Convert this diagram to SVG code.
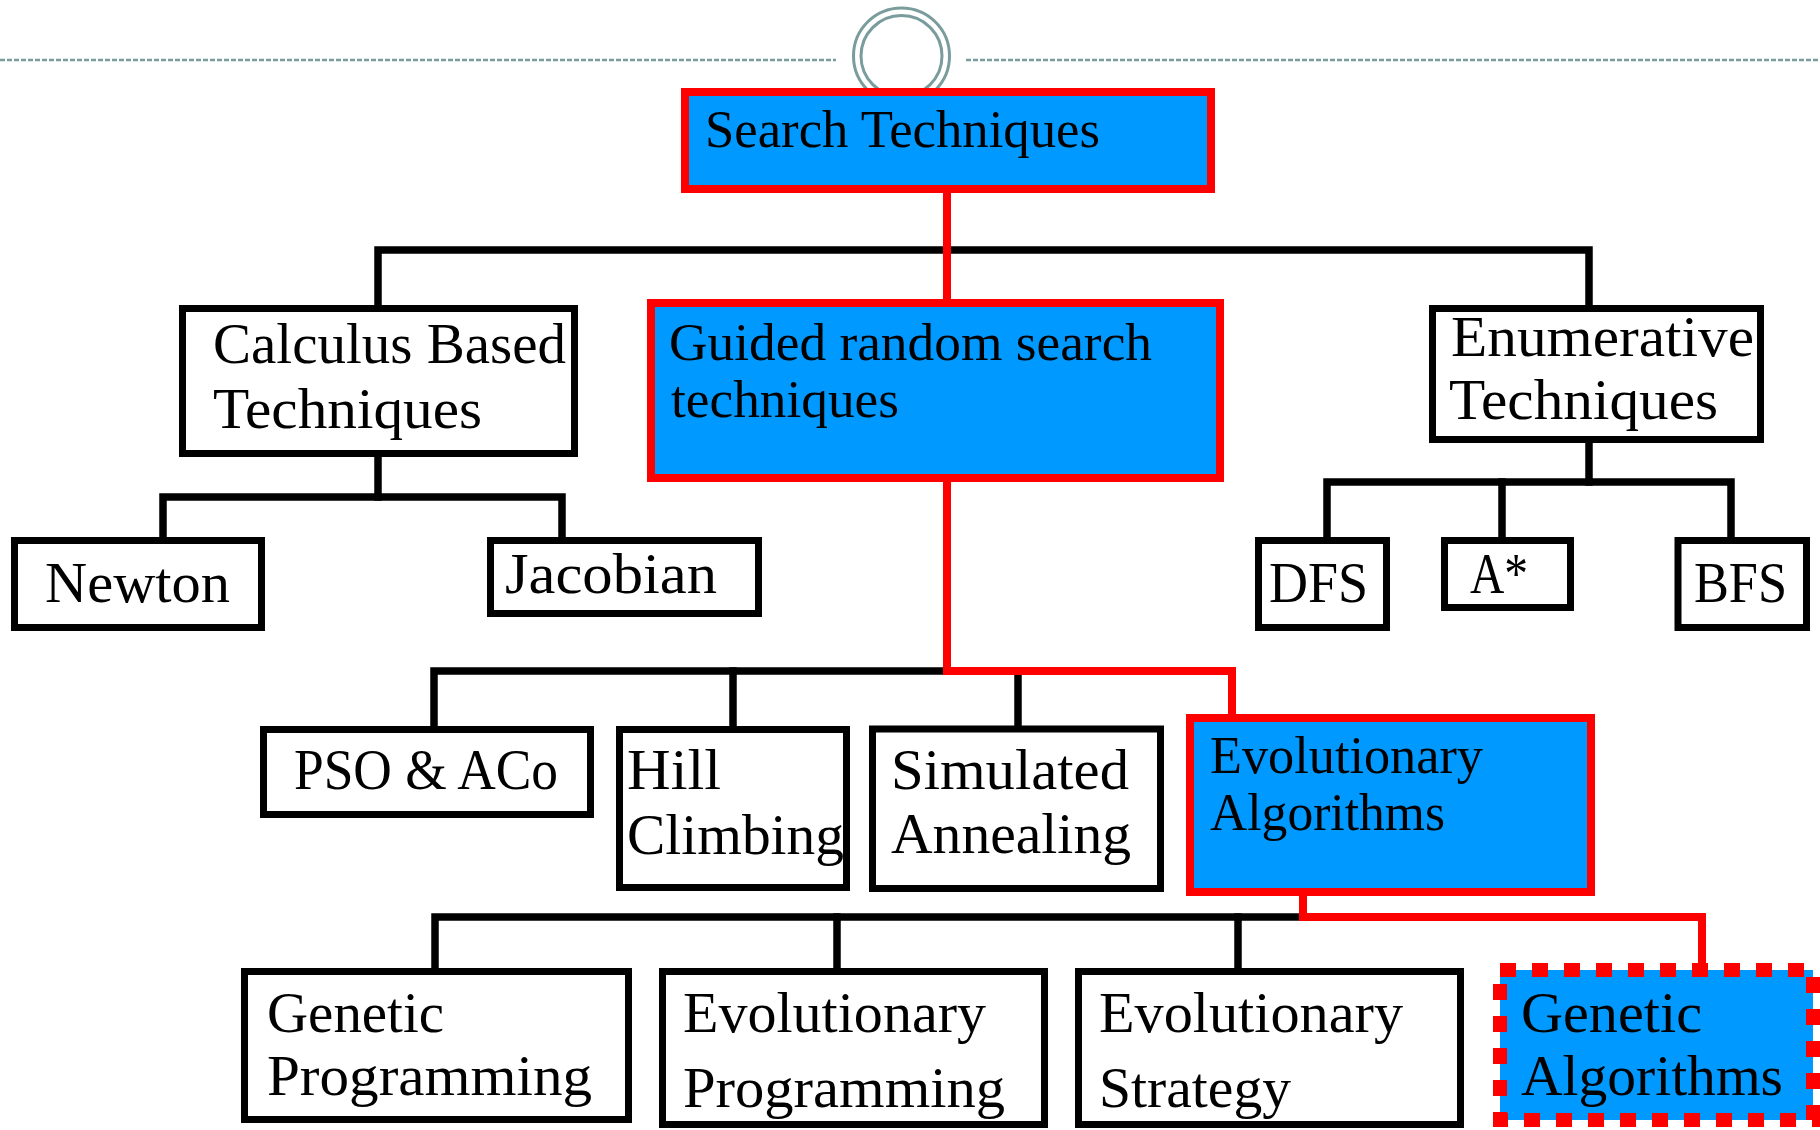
<svg xmlns="http://www.w3.org/2000/svg" width="1820" height="1130" viewBox="0 0 1820 1130">
<style>
.box{fill:#fff;stroke:#000;stroke-width:7;stroke-linejoin:miter}
.hl{fill:#0099FF;stroke:#FF0000;stroke-width:8}
.ga{fill:#0099FF;stroke:#FF0000;stroke-width:14;stroke-dasharray:16 16}
.bl{fill:none;stroke:#000;stroke-width:7.5;stroke-linejoin:miter;stroke-linecap:square}
.rd{fill:none;stroke:#FF0000;stroke-width:8;stroke-linejoin:miter;stroke-linecap:square}
text{font-family:"Liberation Serif","Times New Roman",serif;fill:#000}
.t56{font-size:56px}
.t53{font-size:53px}
.deco{fill:none;stroke:#7A9C9C;stroke-width:3}
</style>
<g id="decoration">
<line x1="0" y1="60" x2="836" y2="60" stroke="#7A9C9C" stroke-width="2.5" stroke-dasharray="5 2"/>
<line x1="966" y1="60" x2="1820" y2="60" stroke="#7A9C9C" stroke-width="2.5" stroke-dasharray="5 2"/>
<circle class="deco" cx="901.5" cy="56" r="48"/>
<circle class="deco" cx="901.5" cy="56" r="40.5"/>
</g>
<g id="connectors">
<polyline class="bl" points="378,305 378,250 1589,250 1589,305"/>
<polyline class="bl" points="378,457 378,497"/>
<polyline class="bl" points="163,537 163,497 562,497 562,537"/>
<polyline class="bl" points="1589,443 1589,482"/>
<polyline class="bl" points="1327,537 1327,482 1731,482 1731,537"/>
<line class="bl" x1="1502" y1="482" x2="1502" y2="537"/>
<polyline class="bl" points="434,726 434,671 947,671"/>
<line class="bl" x1="733" y1="671" x2="733" y2="726"/>
<line class="bl" x1="1018" y1="671" x2="1018" y2="726"/>
<polyline class="bl" points="435,968 435,917 1303,917"/>
<line class="bl" x1="837" y1="917" x2="837" y2="968"/>
<line class="bl" x1="1238" y1="917" x2="1238" y2="968"/>
<line class="rd" x1="947" y1="193" x2="947" y2="299"/>
<polyline class="rd" points="947,482 947,671 1232,671 1232,714"/>
<polyline class="rd" points="1303,896 1303,917 1702,917 1702,963"/>
</g>
<g id="search-techniques">
<rect class="hl" x="685" y="92" width="526" height="97"/>
<text class="t53" x="705" y="147" textLength="395" lengthAdjust="spacingAndGlyphs">Search Techniques</text>
</g>
<g id="calculus">
<rect class="box" x="182.5" y="308.5" width="392" height="145"/>
<text class="t56" x="213" y="363" textLength="353" lengthAdjust="spacingAndGlyphs">Calculus Based</text>
<text class="t56" x="213" y="428" textLength="269" lengthAdjust="spacingAndGlyphs">Techniques</text>
</g>
<g id="guided">
<rect class="hl" x="651" y="303" width="569" height="175"/>
<text class="t53" x="669" y="360" textLength="483" lengthAdjust="spacingAndGlyphs">Guided random search</text>
<text class="t53" x="671" y="417" textLength="228" lengthAdjust="spacingAndGlyphs">techniques</text>
</g>
<g id="enumerative">
<rect class="box" x="1432.5" y="308.5" width="328" height="131"/>
<text class="t56" x="1451" y="356" textLength="303" lengthAdjust="spacingAndGlyphs">Enumerative</text>
<text class="t56" x="1449" y="419" textLength="269" lengthAdjust="spacingAndGlyphs">Techniques</text>
</g>
<g id="newton">
<rect class="box" x="14.5" y="540.5" width="247" height="87"/>
<text class="t56" x="45" y="602" textLength="185" lengthAdjust="spacingAndGlyphs">Newton</text>
</g>
<g id="jacobian">
<rect class="box" x="490.5" y="540.5" width="268" height="73"/>
<text class="t56" x="505" y="593" textLength="212" lengthAdjust="spacingAndGlyphs">Jacobian</text>
</g>
<g id="dfs">
<rect class="box" x="1258.5" y="540.5" width="128" height="87"/>
<text class="t56" x="1269" y="602" textLength="99" lengthAdjust="spacingAndGlyphs">DFS</text>
</g>
<g id="astar">
<rect class="box" x="1444.5" y="540.5" width="126" height="67"/>
<text class="t56" x="1470" y="593" textLength="58" lengthAdjust="spacingAndGlyphs">A*</text>
</g>
<g id="bfs">
<rect class="box" x="1678" y="540.5" width="128.5" height="87"/>
<text class="t56" x="1694" y="602" textLength="93" lengthAdjust="spacingAndGlyphs">BFS</text>
</g>
<g id="pso">
<rect class="box" x="263.5" y="729.5" width="327" height="85"/>
<text class="t56" x="294" y="789" textLength="264" lengthAdjust="spacingAndGlyphs">PSO &amp; ACo</text>
</g>
<g id="hill">
<rect class="box" x="619.5" y="729.5" width="227" height="158"/>
<text class="t56" x="627" y="789" textLength="94" lengthAdjust="spacingAndGlyphs">Hill</text>
<text class="t56" x="627" y="854" textLength="217" lengthAdjust="spacingAndGlyphs">Climbing</text>
</g>
<g id="simulated">
<rect class="box" x="872.5" y="729" width="288" height="159.5"/>
<text class="t56" x="891" y="789" textLength="238" lengthAdjust="spacingAndGlyphs">Simulated</text>
<text class="t56" x="891" y="853" textLength="240" lengthAdjust="spacingAndGlyphs">Annealing</text>
</g>
<g id="evolutionary-algorithms">
<rect class="hl" x="1190" y="718" width="401" height="174"/>
<text class="t53" x="1210" y="773" textLength="273" lengthAdjust="spacingAndGlyphs">Evolutionary</text>
<text class="t53" x="1210" y="830" textLength="235" lengthAdjust="spacingAndGlyphs">Algorithms</text>
</g>
<g id="genetic-programming">
<rect class="box" x="244.5" y="971.5" width="384" height="148"/>
<text class="t56" x="267" y="1032" textLength="177" lengthAdjust="spacingAndGlyphs">Genetic</text>
<text class="t56" x="267" y="1095" textLength="325" lengthAdjust="spacingAndGlyphs">Programming</text>
</g>
<g id="evolutionary-programming">
<rect class="box" x="662.5" y="971.5" width="382" height="153"/>
<text class="t56" x="683" y="1032" textLength="303" lengthAdjust="spacingAndGlyphs">Evolutionary</text>
<text class="t56" x="683" y="1107" textLength="322" lengthAdjust="spacingAndGlyphs">Programming</text>
</g>
<g id="evolutionary-strategy">
<rect class="box" x="1078.5" y="971.5" width="382" height="153"/>
<text class="t56" x="1099" y="1032" textLength="304" lengthAdjust="spacingAndGlyphs">Evolutionary</text>
<text class="t56" x="1099" y="1107" textLength="192" lengthAdjust="spacingAndGlyphs">Strategy</text>
</g>
<g id="genetic-algorithms">
<rect class="ga" x="1500" y="970" width="313" height="150"/>
<text class="t56" x="1521" y="1032" textLength="181" lengthAdjust="spacingAndGlyphs">Genetic</text>
<text class="t56" x="1521" y="1095" textLength="262" lengthAdjust="spacingAndGlyphs">Algorithms</text>
</g>
</svg>
